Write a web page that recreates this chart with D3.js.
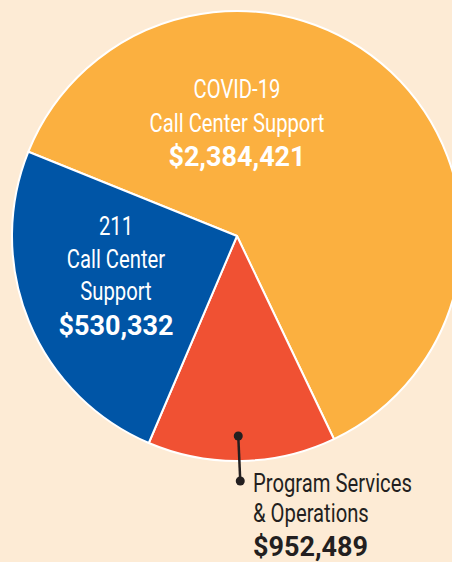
<!DOCTYPE html>
<html>
<head>
<meta charset="utf-8">
<script src="https://cdn.jsdelivr.net/npm/d3@7"></script>
<style>
  html, body { margin: 0; padding: 0; background: #fdebd5; }
  .lbl { font-family: Roboto, sans-serif; font-weight: 400; font-size: 25px; }
  .amt { font-family: Roboto, sans-serif; font-weight: 700; font-size: 27px; }
</style>
</head>
<body>
<div class="canvas"></div>
<script>
// chart data
const categories = ['COVID-19 Call Center Support', '211 Call Center Support', 'Program Services & Operations'];
const amounts = [2384421, 530332, 952489];
const labelLines = [['COVID-19', 'Call Center Support'], ['211', 'Call Center', 'Support'], ['Program Services', '& Operations']];
// share of the circle each slice takes in the picture (percent)
const drawnShare = [61.8, 24.7, 13.5];
const colors = ['#fbb040', '#0055a6', '#f05133'];

const width = 452, height = 562;
const cx = 237, cy = 236, radius = 225;
const squeeze = 0.81; // narrow the label font to look condensed

const svg = d3.select('.canvas')
    .append('svg')
    .attr('width', width)
    .attr('height', height);

svg.append('rect')
    .attr('width', width)
    .attr('height', height)
    .attr('fill', '#fdebd5');

const graph = svg.append('g')
    .attr('transform', `translate(${cx}, ${cy})`);

// clockwise order: COVID, Program, 211
const sliceOrder = [0, 2, 1];
const start = -68 * Math.PI / 180;

const pie = d3.pie()
    .sort(null)
    .value(i => drawnShare[i])
    .startAngle(start)
    .endAngle(start + 2 * Math.PI);

const arc = d3.arc().innerRadius(0).outerRadius(radius);
const arcs = pie(sliceOrder);

graph.selectAll('path')
    .data(arcs)
    .enter()
    .append('path')
    .attr('d', arc)
    .attr('fill', d => colors[d.data])
    .attr('stroke', '#fff')
    .attr('stroke-width', 2)
    .attr('stroke-linejoin', 'round');

const fmt = d3.format('$,');

const addLine = (g, t, x, y) => g.append('text')
    .attr('class', 'lbl')
    .attr('transform', `translate(${x}, ${y}) scale(${squeeze}, 1)`)
    .text(t);

// COVID label
const covid = graph.append('g').attr('fill', '#fff').attr('text-anchor', 'middle');
labelLines[0].forEach((t, i) => addLine(covid, t, 0, -138 + i * 34));
covid.append('text').attr('class', 'amt').attr('x', 0).attr('y', -70).text(fmt(amounts[0]));

// 211 label
const blue = graph.append('g').attr('fill', '#fff').attr('text-anchor', 'middle');
labelLines[1].forEach((t, i) => addLine(blue, t, -121, -1 + i * 32.5));
blue.append('text').attr('class', 'amt').attr('x', -121).attr('y', 99).text(fmt(amounts[1]));

// Program label with leader line
const prog = arcs.find(d => d.data === 2);
const pointArc = d3.arc().innerRadius(200).outerRadius(200);
const [px] = pointArc.centroid(prog);
const p1 = [px - 3, 200];
const p2 = [px - 1, 245];

graph.append('line')
    .attr('x1', p1[0]).attr('y1', p1[1])
    .attr('x2', p2[0]).attr('y2', p2[1])
    .attr('stroke', '#231f20')
    .attr('stroke-width', 2.5);

graph.selectAll('circle.dot')
    .data([p1, p2])
    .enter()
    .append('circle')
    .attr('class', 'dot')
    .attr('cx', d => d[0])
    .attr('cy', d => d[1])
    .attr('r', 4.5)
    .attr('fill', '#231f20');

const pg = graph.append('g').attr('fill', '#231f20');
labelLines[2].forEach((t, i) => addLine(pg, t, 16, 256 + i * 30));
pg.append('text').attr('class', 'amt').attr('x', 16).attr('y', 320).text(fmt(amounts[2]));
</script>
</body>
</html>
